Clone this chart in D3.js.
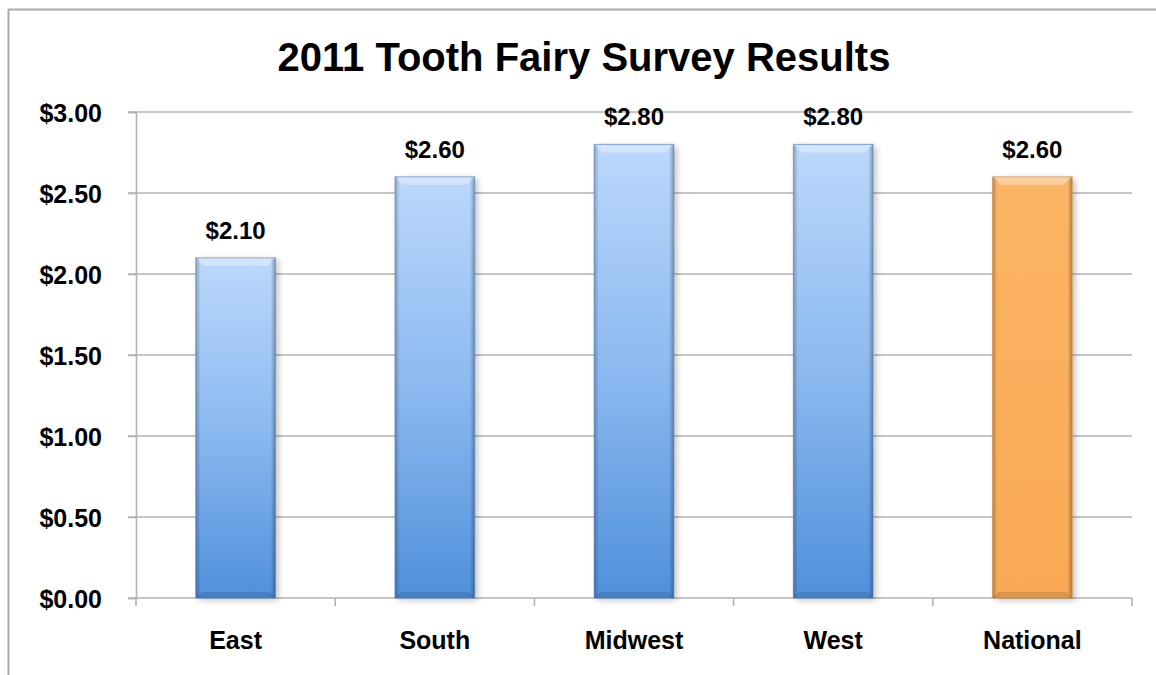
<!DOCTYPE html>
<html><head><meta charset="utf-8">
<script src="https://cdn.jsdelivr.net/npm/d3@7"></script>
<style>body{margin:0;background:#fff}svg{display:block}text{font-family:"Liberation Sans",Arial,sans-serif;font-weight:bold;fill:#000}</style>
</head><body><svg id="c" width="1156" height="675"></svg>
<script>
const title = "2011 Tooth Fairy Survey Results";
const categories = ["East","South","Midwest","West","National"];
const values = [2.10, 2.60, 2.80, 2.80, 2.60];
const highlight = [false,false,false,false,true];
const yTicks = [0,0.5,1,1.5,2,2.5,3];

const svg = d3.select("#c");
const m = {left:136, right:1132, top:112, bottom:598};
const x = d3.scaleBand().domain(categories).range([m.left,m.right]).padding(0);
const y = d3.scaleLinear().domain([0,3]).range([m.bottom,m.top]);
const fmt = d => "$" + d3.format(".2f")(d);
const barW = x.bandwidth()*0.4;

// chart border
svg.append("line").attr("x1",8.5).attr("x2",8.5).attr("y1",9).attr("y2",675).attr("stroke","#aaa").attr("stroke-width",2);
svg.append("line").attr("x1",8).attr("x2",1156).attr("y1",9.5).attr("y2",9.5).attr("stroke","#aaa").attr("stroke-width",2);

const defs = svg.append("defs");
function grad(id, stops, x2, y2){
  const g = defs.append("linearGradient").attr("id",id).attr("x1",0).attr("y1",0).attr("x2",x2).attr("y2",y2);
  stops.forEach(s=>g.append("stop").attr("offset",s[0]).attr("stop-color",s[1]).attr("stop-opacity",s[2]===undefined?1:s[2]));
}
grad("gBlue",[[0,"#bcd8fc"],[0.5,"#8cb9f0"],[1,"#5090db"]],0,1);
grad("gOrange",[[0,"#fcb565"],[1,"#f9a955"]],0,1);
grad("gEdge",[[0,"#000",0.25],[0.06,"#000",0],[0.94,"#000",0],[1,"#000",0.3]],1,0);
const f = defs.append("filter").attr("id","sh").attr("x","-20%").attr("y","-10%").attr("width","150%").attr("height","130%");
f.append("feGaussianBlur").attr("in","SourceAlpha").attr("stdDeviation",3);
f.append("feOffset").attr("dx",3).attr("dy",2).attr("result","b");
f.append("feComponentTransfer").append("feFuncA").attr("type","linear").attr("slope",0.25);
const fm = f.append("feMerge"); fm.append("feMergeNode"); fm.append("feMergeNode").attr("in","SourceGraphic");

// gridlines
svg.append("g").selectAll("line").data(yTicks.filter(d=>d>0)).join("line")
  .attr("x1",m.left-8).attr("x2",m.right).attr("y1",d=>y(d)).attr("y2",d=>y(d))
  .attr("stroke","#b3b3b3").attr("stroke-width",1.6);

// y axis
const ya = svg.append("g").attr("transform",`translate(${m.left},0)`)
  .call(d3.axisLeft(y).tickValues(yTicks).tickFormat(fmt).tickSize(8).tickPadding(26));
ya.select(".domain").attr("stroke","#b3b3b3").attr("stroke-width",1.6);
ya.selectAll(".tick line").attr("stroke","#b3b3b3").attr("stroke-width",1.6);
ya.selectAll("text").style("font-size","25px").style("font-family","Liberation Sans, Arial").style("font-weight","bold").attr("fill","#000").attr("dy","0.38em");

// x axis
const xa = svg.append("g").attr("transform",`translate(0,${m.bottom})`)
  .call(d3.axisBottom(x).tickSize(0).tickPadding(33));
xa.select(".domain").attr("stroke","#b3b3b3").attr("stroke-width",1.6).attr("d",`M${m.left-8},0H${m.right}`);
xa.selectAll("text").style("font-size","25px").style("font-family","Liberation Sans, Arial").style("font-weight","bold").attr("fill","#000");
const bounds = [m.left].concat(categories.map(c=>x(c)+x.bandwidth()));
svg.append("g").selectAll("line").data(bounds).join("line")
  .attr("x1",d=>d).attr("x2",d=>d).attr("y1",m.bottom).attr("y2",m.bottom+8)
  .attr("stroke","#b3b3b3").attr("stroke-width",1.6);

// bars
const bars = svg.append("g").selectAll("g").data(categories).join("g")
  .attr("transform",(c,i)=>`translate(${x(c)+(x.bandwidth()-barW)/2},${y(values[i])})`);
bars.append("rect").attr("width",barW).attr("height",(c,i)=>y(0)-y(values[i]))
  .attr("fill",(c,i)=>highlight[i]?"url(#gOrange)":"url(#gBlue)").attr("filter","url(#sh)");
bars.append("rect").attr("width",barW).attr("height",(c,i)=>y(0)-y(values[i])).attr("fill","url(#gEdge)");
// top bevel
bars.append("path").attr("d",`M0,0H${barW}L${barW-8},8H8Z`).attr("fill","#fff").attr("opacity",0.35);
// bottom bevel
bars.append("path").attr("d",(c,i)=>{const h=y(0)-y(values[i]);return `M0,${h}H${barW}L${barW-6},${h-6}H6Z`;}).attr("fill","#000").attr("opacity",0.12);
bars.append("rect").attr("width",barW).attr("height",(c,i)=>y(0)-y(values[i])).attr("fill","none")
  .attr("stroke",(c,i)=>highlight[i]?"#c98a45":"#4a80c4").attr("stroke-width",1).attr("stroke-opacity",0.6);

// value labels
svg.append("g").selectAll("text").data(categories).join("text")
  .attr("x",c=>x(c)+x.bandwidth()/2).attr("y",(c,i)=>y(values[i])-19)
  .attr("text-anchor","middle").style("font-size","24px").text((c,i)=>fmt(values[i]));

// title
svg.append("text").attr("x",584).attr("y",71).attr("text-anchor","middle").style("font-size","40px").text(title);
</script></body></html>
